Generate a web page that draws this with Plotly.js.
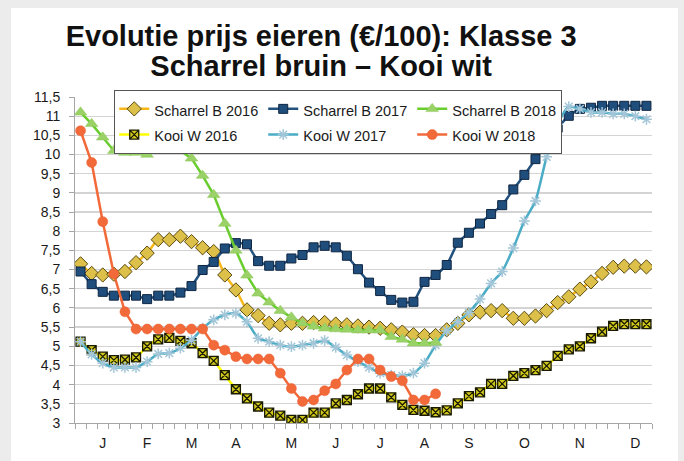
<!DOCTYPE html>
<html>
<head>
<meta charset="utf-8">
<script src="https://cdn.plot.ly/plotly-3.0.1.min.js"></script>
<style>
  html, body { margin: 0; padding: 0; background: #ececec; }
  #chart { position: absolute; left: 11px; top: 8px; width: 667px; height: 453px; background: #ffffff; }
</style>
</head>
<body>
<div id="chart"></div>
<script>
// Weeks 1..52
const weeks = Array.from({length: 52}, (_, i) => i + 1);
const weeks2018 = weeks.slice(0, 33);

const monthLabels = ["J", "F", "M", "A", "M", "J", "J", "A", "S", "O", "N", "D"];
const monthWeeks = [3, 7, 11, 15, 20, 24, 28, 32, 36, 41, 46, 51];

const scharrelB2016 = [7.15,6.9,6.86,6.88,6.95,7.18,7.43,7.78,7.78,7.87,7.73,7.57,7.47,6.86,6.47,5.95,5.8,5.6,5.56,5.6,5.6,5.62,5.62,5.58,5.56,5.53,5.5,5.47,5.43,5.37,5.3,5.28,5.28,5.43,5.6,5.82,5.89,5.93,5.93,5.73,5.73,5.79,5.93,6.14,6.29,6.49,6.68,6.9,7.06,7.09,7.09,7.07];
const scharrelB2017 = [6.95,6.62,6.42,6.32,6.32,6.32,6.23,6.32,6.32,6.4,6.57,6.99,7.2,7.55,7.69,7.66,7.22,7.1,7.1,7.29,7.38,7.58,7.62,7.58,7.36,7.01,6.66,6.44,6.21,6.14,6.16,6.68,6.86,7.12,7.7,7.96,8.2,8.45,8.68,9.09,9.47,9.88,10.27,10.7,11.01,11.19,11.22,11.27,11.27,11.27,11.27,11.27];
const scharrelB2018 = [11.1,10.8,10.45,10.1,10.05,10.05,10.0,10.1,10.1,10.1,9.9,9.45,8.95,8.2,7.5,6.85,6.38,6.15,5.93,5.76,5.6,5.52,5.47,5.45,5.44,5.42,5.42,5.42,5.25,5.18,5.08,5.08,5.1];
const kooiW2016 = [5.12,4.9,4.73,4.64,4.65,4.71,5.0,5.18,5.22,5.14,5.08,4.82,4.62,4.25,3.88,3.64,3.43,3.27,3.19,3.08,3.08,3.27,3.27,3.51,3.6,3.75,3.9,3.9,3.67,3.47,3.34,3.32,3.28,3.33,3.51,3.7,3.8,4.02,4.02,4.23,4.3,4.38,4.49,4.75,4.92,5.0,5.21,5.38,5.53,5.58,5.58,5.58];
const kooiW2017 = [5.12,4.79,4.56,4.45,4.45,4.45,4.6,4.8,4.82,4.95,5.16,5.47,5.69,5.82,5.86,5.64,5.21,5.12,5.03,4.99,5.03,5.08,5.15,4.97,4.77,4.6,4.45,4.3,4.25,4.23,4.3,4.56,5.03,5.4,5.64,5.88,6.23,6.64,6.95,7.56,8.27,8.79,9.94,10.79,11.25,11.19,11.1,11.1,11.06,11.06,11.0,10.92];
const kooiW2018 = [10.62,9.79,8.25,6.89,5.9,5.45,5.45,5.45,5.45,5.45,5.45,5.45,5.03,4.9,4.73,4.67,4.67,4.67,4.3,3.9,3.56,3.6,3.84,4.02,4.38,4.67,4.67,4.38,4.21,4.1,3.6,3.6,3.76];

const nm = s => '<span style="font-size:14.5px">' + s + '</span>';
const tl = s => '<span style="font-size:29px"><b>' + s + '</b></span>';

const traces = [
  {name: nm('Scharrel B 2016'), x: weeks, y: scharrelB2016, legendgroup: 'g2016',
   mode: 'lines+markers', line: {color: '#f7b718', width: 2.5, shape: 'spline', smoothing: 0.6},
   marker: {symbol: 'diamond', size: 11, color: '#dcc04a', line: {color: '#5a4a10', width: 1}}},
  {name: nm('Kooi W 2016'), x: weeks, y: kooiW2016, legendgroup: 'g2016',
   mode: 'lines+markers', line: {color: '#ffff00', width: 2.5, shape: 'spline', smoothing: 0.6},
   marker: {symbol: 'square-x', size: 9, color: '#d2c91e', line: {color: '#1a1a00', width: 1.3}}},
  {name: nm('Scharrel B 2017'), x: weeks, y: scharrelB2017, legendgroup: 'g2017',
   mode: 'lines+markers', line: {color: '#24527f', width: 2.5, shape: 'spline', smoothing: 0.4},
   marker: {symbol: 'square', size: 9, color: '#1f4e7d', line: {color: '#0f2540', width: 1}}},
  {name: nm('Kooi W 2017'), x: weeks, y: kooiW2017, legendgroup: 'g2017',
   mode: 'lines+markers', line: {color: '#4bacc6', width: 2.5, shape: 'spline', smoothing: 0.6},
   marker: {symbol: 'asterisk-open', size: 9, color: '#a3c6d8', line: {color: '#a3c6d8', width: 1.5}}},
  {name: nm('Scharrel B 2018'), x: weeks2018, y: scharrelB2018, legendgroup: 'g2018',
   mode: 'lines+markers', line: {color: '#6acd2e', width: 2.5},
   marker: {symbol: 'triangle-up', size: 11, color: '#9ad267', line: {color: '#8cc65a', width: 0.5}}},
  {name: nm('Kooi W 2018'), x: weeks2018, y: kooiW2018, legendgroup: 'g2018',
   mode: 'lines+markers', line: {color: '#f2693a', width: 2.5},
   marker: {symbol: 'circle', size: 10, color: '#f2693a', line: {color: '#e85d2e', width: 0.5}}}
];

const layout = {
  width: 667, height: 453,
  margin: {l: 64, r: 26, t: 89, b: 38},
  paper_bgcolor: '#ffffff', plot_bgcolor: '#ffffff',
  separators: ', ',
  font: {family: 'Liberation Sans, Arial, sans-serif', color: '#1a1a1a', size: 14},
  title: {
    text: tl('Evolutie prijs eieren (€/100): Klasse 3') + '<br>' + tl('Scharrel bruin – Kooi wit'),
    font: {family: 'Liberation Sans, Arial, sans-serif', size: 23, color: '#111111'},
    x: 0.465, xanchor: 'center', xref: 'container',
    y: 0.916, yanchor: 'top', yref: 'container'
  },
  showlegend: true,
  legend: {
    orientation: 'h', traceorder: 'grouped', tracegroupgap: 0,
    x: 0.068, xanchor: 'left', y: 1.0215, yanchor: 'top',
    bgcolor: '#ffffff', bordercolor: '#555555', borderwidth: 1,
    font: {size: 17.5, color: '#1a1a1a'},
    itemwidth: 30
  },
  xaxis: {
    range: [0.5, 52.5], tickmode: 'array', tickvals: monthWeeks, ticktext: monthLabels,
    ticks: '', showgrid: false, zeroline: false,
    showline: true, linecolor: '#a6a6a6', linewidth: 1,
    tickfont: {size: 14, color: '#1a1a1a'}, ticklabelstandoff: 7,
    minor: {tick0: 0.5, dtick: 1, ticks: 'outside', ticklen: 5, tickcolor: '#a6a6a6', tickwidth: 1, showgrid: false}
  },
  yaxis: {
    range: [3, 11.5], dtick: 0.5, tick0: 3,
    showgrid: true, gridcolor: '#d4d4d4', gridwidth: 1.3, zeroline: false,
    showline: true, linecolor: '#a6a6a6', linewidth: 1,
    ticks: 'outside', ticklen: 5, tickcolor: '#a6a6a6',
    tickfont: {size: 14, color: '#1a1a1a'}, ticklabelstandoff: 6
  }
};

Plotly.newPlot('chart', traces, layout, {displayModeBar: false, staticPlot: true});
</script>
</body>
</html>
